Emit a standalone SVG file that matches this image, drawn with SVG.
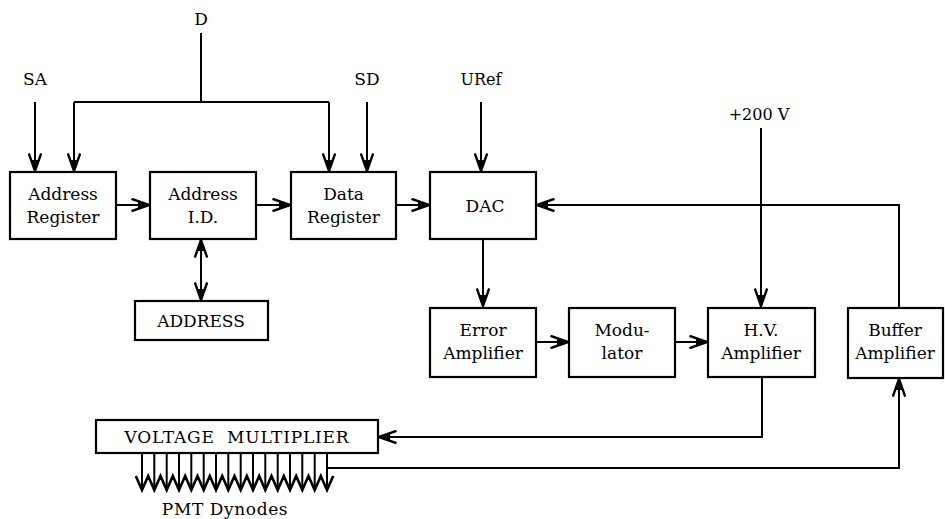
<svg xmlns="http://www.w3.org/2000/svg" width="945" height="519" viewBox="0 0 945 519">
<style>
.box{fill:#fff;stroke:#000;stroke-width:2.2}
.ln{fill:none;stroke:#000;stroke-width:2}
.t{font-family:"DejaVu Serif","Liberation Serif",serif;font-size:17px;fill:#000;text-anchor:middle}
.s{font-size:16px}
.c{font-size:17px}
</style>
<defs>
<marker id="ah" viewBox="0 0 20 14" markerWidth="20" markerHeight="14" refX="19" refY="7" orient="auto-start-reverse" markerUnits="userSpaceOnUse">
<path d="M1.5,0.8 L19,7 L1.5,13.2" fill="none" stroke="#000" stroke-width="2.4"/>
<path d="M19,7 L8,3.6 L8,10.4 z" fill="#000"/>
</marker>
</defs>
<rect width="945" height="519" fill="#fff"/>

<g id="inputs">
<text class="t" x="201" y="25">D</text>
<text class="t" x="35" y="85">SA</text>
<text class="t" x="367" y="85">SD</text>
<text class="t s" x="481" y="85">URef</text>
<text class="t s" x="759" y="120">+200 V</text>
</g>

<g id="connectors">
<path class="ln" d="M35,102 V171" marker-end="url(#ah)"/>
<path class="ln" d="M201,33 V102"/>
<path class="ln" d="M74,102 H329"/>
<path class="ln" d="M74,102 V171" marker-end="url(#ah)"/>
<path class="ln" d="M329,102 V171" marker-end="url(#ah)"/>
<path class="ln" d="M367,102 V171" marker-end="url(#ah)"/>
<path class="ln" d="M481,102 V171" marker-end="url(#ah)"/>
<path class="ln" d="M116,205 H149" marker-end="url(#ah)"/>
<path class="ln" d="M256,205 H290" marker-end="url(#ah)"/>
<path class="ln" d="M396,205 H429" marker-end="url(#ah)"/>
<path class="ln" d="M201,240 V300" marker-start="url(#ah)" marker-end="url(#ah)"/>
<path class="ln" d="M899,308 V205 H537" marker-end="url(#ah)"/>
<path class="ln" d="M483,239 V306" marker-end="url(#ah)"/>
<path class="ln" d="M761,128 V306" marker-end="url(#ah)"/>
<path class="ln" d="M536,342 H568" marker-end="url(#ah)"/>
<path class="ln" d="M675,342 H707" marker-end="url(#ah)"/>
<path class="ln" d="M762,377 V437 H379" marker-end="url(#ah)"/>
<path class="ln" d="M327,468 H899 V379" marker-end="url(#ah)"/>
</g>

<g id="address-register">
<rect class="box" x="10" y="172" width="106" height="67"/>
<text class="t" x="63" y="200">Address</text>
<text class="t" x="63" y="223">Register</text>
</g>
<g id="address-id">
<rect class="box" x="150" y="172" width="106" height="67"/>
<text class="t" x="203" y="200">Address</text>
<text class="t" x="203" y="223">I.D.</text>
</g>
<g id="data-register">
<rect class="box" x="291" y="172" width="105" height="67"/>
<text class="t" x="343.5" y="200">Data</text>
<text class="t" x="343.5" y="223">Register</text>
</g>
<g id="dac">
<rect class="box" x="430" y="172" width="106" height="67"/>
<text class="t" x="485" y="212">DAC</text>
</g>
<g id="address">
<rect class="box" x="135" y="301" width="133" height="39"/>
<text class="t c" x="201" y="327">ADDRESS</text>
</g>
<g id="error-amplifier">
<rect class="box" x="430" y="308" width="106" height="69"/>
<text class="t" x="483" y="336">Error</text>
<text class="t" x="483" y="359">Amplifier</text>
</g>
<g id="modulator">
<rect class="box" x="569" y="308" width="106" height="69"/>
<text class="t" x="622" y="336">Modu-</text>
<text class="t" x="622" y="359">lator</text>
</g>
<g id="hv-amplifier">
<rect class="box" x="708" y="308" width="107" height="69"/>
<text class="t" x="761" y="336">H.V.</text>
<text class="t" x="761" y="359">Amplifier</text>
</g>
<g id="buffer-amplifier">
<rect class="box" x="848" y="308" width="95" height="70"/>
<text class="t" x="895" y="336">Buffer</text>
<text class="t" x="895" y="359">Amplifier</text>
</g>

<g id="voltage-multiplier">
<path class="ln" d="M142,453V488M154.3,453V488M166.7,453V488M179,453V488M191.3,453V488M203.7,453V488M216,453V488M228.3,453V488M240.7,453V488M253,453V488M265.3,453V488M277.7,453V488M290,453V488M302.3,453V488M314.7,453V488M327,453V488"/>
<polyline fill="none" stroke="#000" stroke-width="2.6" stroke-linejoin="miter" points="135.8,476 142,490 148.2,476 154.3,490 160.5,476 166.7,490 172.8,476 179,490 185.2,476 191.3,490 197.5,476 203.7,490 209.8,476 216,490 222.2,476 228.3,490 234.5,476 240.7,490 246.8,476 253,490 259.2,476 265.3,490 271.5,476 277.7,490 283.8,476 290,490 296.2,476 302.3,490 308.5,476 314.7,490 320.8,476 327,490 333.2,476"/>
<rect class="box" x="96" y="420" width="282" height="33"/>
<text class="t c" x="237" y="443" letter-spacing="0.8" xml:space="preserve">VOLTAGE  MULTIPLIER</text>
<text class="t c" x="225" y="515" letter-spacing="0.6">PMT Dynodes</text>
</g>
</svg>
